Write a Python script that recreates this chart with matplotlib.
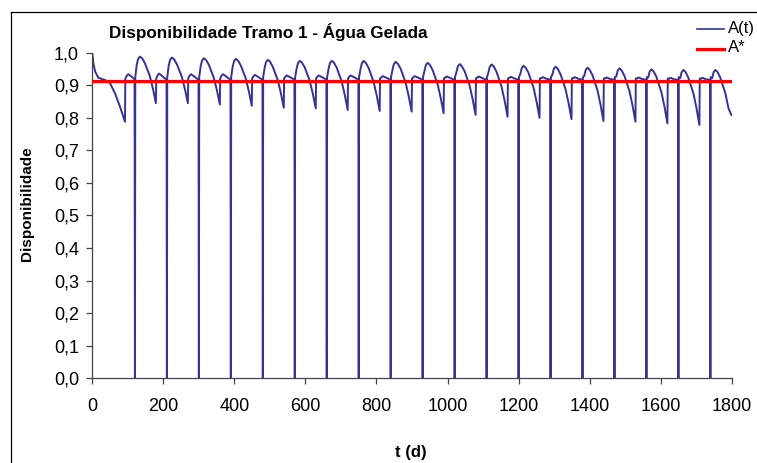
import matplotlib
matplotlib.use("Agg")
import matplotlib.pyplot as plt
from matplotlib.lines import Line2D
from matplotlib.ticker import FuncFormatter

plt.rcParams['font.family'] = ['Liberation Sans', 'DejaVu Sans']

# ---------------- data ----------------
title = "Disponibilidade Tramo 1 - Água Gelada"
x_label = "t (d)"
y_label = "Disponibilidade"
series_name = "A(t)"
target_name = "A*"
a_star = 0.914

# initial segment (before the first maintenance)
init_days = [0, 3, 8, 17, 36, 50, 64, 78, 92, 93, 96, 101, 109, 119]
init_vals = [1.0, 0.967, 0.942, 0.923, 0.916, 0.906, 0.875, 0.834, 0.788,
             0.921, 0.927, 0.934, 0.928, 0.918]

# maintenance days (A drops to 0)
drop_days = [120, 210, 300, 390, 480, 570, 660, 750, 840, 930, 1020, 1110,
             1200, 1290, 1380, 1470, 1560, 1650, 1740]
# cycle feature offsets (days after each drop)
feat_offsets = [1, 5, 9, 14, 20, 28, 42, 51, 59, 60, 64, 68, 78, 89]
post_vals = [0.925] * 19
rise_vals = [0.963, 0.960, 0.958, 0.956, 0.953, 0.950, 0.950, 0.950, 0.947,
             0.944, 0.940, 0.939, 0.935, 0.932, 0.929, 0.927, 0.924, 0.922, 0.922]
near_vals = [0.981, 0.978, 0.976, 0.974, 0.971, 0.968, 0.968, 0.968, 0.965,
             0.962, 0.958, 0.957, 0.953, 0.950, 0.947, 0.945, 0.942, 0.940, 0.940]
peak_vals = [0.988, 0.985, 0.983, 0.981, 0.978, 0.975, 0.975, 0.975, 0.972,
             0.969, 0.965, 0.964, 0.960, 0.957, 0.954, 0.952, 0.949, 0.947, 0.947]
d20_vals = [0.983, 0.980, 0.978, 0.976, 0.973, 0.970, 0.970, 0.969, 0.966,
            0.963, 0.959, 0.958, 0.954, 0.951, 0.948, 0.946, 0.943, 0.941, 0.941]
d28_vals = [0.968, 0.965, 0.963, 0.961, 0.957, 0.955, 0.954, 0.953, 0.951,
            0.947, 0.943, 0.941, 0.938, 0.934, 0.931, 0.929, 0.926, 0.923, 0.923]
d42_vals = [0.928, 0.926, 0.923, 0.921, 0.916, 0.914, 0.912, 0.910, 0.908,
            0.904, 0.900, 0.896, 0.893, 0.889, 0.885, 0.883, 0.879, 0.876, 0.876]
d51_vals = [0.888, 0.887, 0.884, 0.880, 0.875, 0.873, 0.869, 0.867, 0.865,
            0.860, 0.856, 0.851, 0.848, 0.844, 0.839, 0.837, 0.833, 0.829, 0.829]
min_vals = [0.845, 0.845, 0.841, 0.837, 0.831, 0.829, 0.824, 0.821, 0.819,
            0.814, 0.809, 0.803, 0.800, 0.796, 0.790, 0.788, 0.783, 0.778, 0.809]
jump_vals = [0.921] * 18
hrise_vals = [0.931, 0.930, 0.930, 0.928, 0.927, 0.927, 0.927, 0.925, 0.925,
              0.924, 0.924, 0.923, 0.922, 0.922, 0.921, 0.921, 0.920, 0.920]
hump_vals = [0.936, 0.934, 0.934, 0.932, 0.930, 0.930, 0.930, 0.928, 0.928,
             0.927, 0.927, 0.926, 0.925, 0.925, 0.924, 0.924, 0.923, 0.923]
hfall_vals = [0.927, 0.926, 0.926, 0.925, 0.924, 0.924, 0.924, 0.923, 0.923,
              0.922, 0.922, 0.921, 0.920, 0.920, 0.919, 0.919, 0.918, 0.918]
end_vals = [0.917] * 18

x_ticks = list(range(0, 1801, 200))
y_ticks = [i / 10 for i in range(11)]

# ---------------- build series ----------------
t = list(init_days)
a = list(init_vals)
n = len(drop_days)
for i, T in enumerate(drop_days):
    t.append(T); a.append(0.0)
    feats = [post_vals[i], rise_vals[i], near_vals[i], peak_vals[i], d20_vals[i],
             d28_vals[i], d42_vals[i], d51_vals[i], min_vals[i]]
    offs = feat_offsets[:9]
    if i < n - 1:
        feats += [jump_vals[i], hrise_vals[i], hump_vals[i], hfall_vals[i], end_vals[i]]
        offs = feat_offsets
    for o, v in zip(offs, feats):
        day = min(T + o, 1800)
        t.append(day); a.append(v)

# ---------------- figure ----------------
W, H = 757, 463
fig = plt.figure(figsize=(W / 100, H / 100), dpi=100)
ax = fig.add_axes([92.3 / W, 1 - 378.3 / H, (731.7 - 92.3) / W, (378.3 - 52.7) / H])

blue = '#333399'
red = '#FF0000'
ax.plot(t, a, color=blue, lw=1.4, zorder=2, solid_joinstyle='round')
ax.axhline(a_star, color=red, lw=2.3, zorder=3)

ax.set_xlim(0, 1800)
ax.set_ylim(0, 1.0)
ax.set_xticks(x_ticks)
ax.set_yticks(y_ticks)
ax.yaxis.set_major_formatter(FuncFormatter(lambda v, p: f"{v:.1f}".replace('.', ',')))
for s in ['top', 'right']:
    ax.spines[s].set_visible(False)
for s in ['left', 'bottom']:
    ax.spines[s].set_color('#444444')
    ax.spines[s].set_linewidth(0.9)
ax.tick_params(axis='both', direction='out', length=4.5, width=0.9, color='#444444',
               labelsize=13)
ax.tick_params(axis='y', pad=5)
ax.tick_params(axis='x', pad=10)
ax.set_facecolor('white')

fig.text(268 / W, 1 - 32 / H, title, ha='center', va='center',
         fontsize=12.3, fontweight='bold')
fig.text(27 / W, 1 - 204 / H, y_label, ha='center', va='center', rotation=90,
         fontsize=11, fontweight='bold')
fig.text(411 / W, 1 - 453 / H, x_label, ha='center', va='center',
         fontsize=12, fontweight='bold')

# chart area border (left and top edges visible)
fig.add_artist(Line2D([11 / W, 11 / W], [0, 1 - 12 / H], color='black', lw=0.9,
                      transform=fig.transFigure))
fig.add_artist(Line2D([11 / W, 1], [1 - 12 / H, 1 - 12 / H], color='black', lw=0.9,
                      transform=fig.transFigure))

# legend (top right, drawn by hand for exact placement)
fig.add_artist(Line2D([697 / W, 724 / W], [1 - 29 / H, 1 - 29 / H], color=blue, lw=1.2,
                      transform=fig.transFigure))
fig.text(728 / W, 1 - 29 / H, series_name, ha='left', va='center', fontsize=12)
fig.add_artist(Line2D([697 / W, 724 / W], [1 - 49 / H, 1 - 49 / H], color=red, lw=2.3,
                      transform=fig.transFigure))
fig.text(728 / W, 1 - 48 / H, target_name, ha='left', va='center', fontsize=12)

fig.savefig("out.png", dpi=100)
